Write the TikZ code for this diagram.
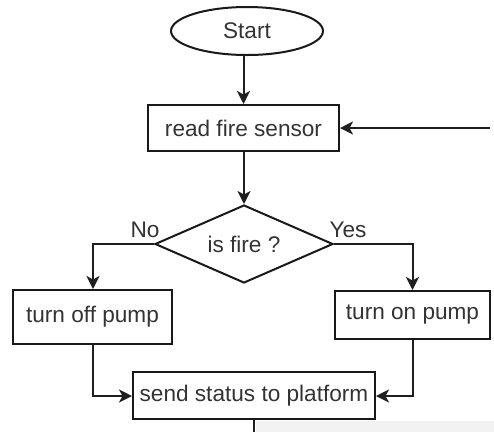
\documentclass[tikz,border=0pt]{standalone}
\usepackage{fontspec}
\setmainfont{Liberation Sans}
\usetikzlibrary{shapes.geometric,arrows.meta}
\begin{document}
\begin{tikzpicture}[x=1pt,y=-1pt,
  every node/.style={font=\fontsize{22.6}{26}\selectfont, text=black!80},
  boxstyle/.style={draw=black!90, line width=2pt, rectangle, inner sep=0pt},
  conn/.style={draw=black!88, line width=2pt},
  arr/.style={conn, -{Stealth[length=13pt,width=13pt,inset=3.5pt]}}
]
\useasboundingbox (0,0) rectangle (494,432);
\fill[black!5] (256,421) rectangle (494,432);

\node[ellipse, draw=black!90, line width=2pt, minimum width=152pt, minimum height=48pt, inner sep=0pt] (start) at (247,31) {Start};
\node[boxstyle, minimum width=191pt, minimum height=46pt] (read) at (243.5,128) {read fire sensor};
\node[diamond, draw=black!90, line width=2pt, minimum width=178pt, minimum height=78pt, inner sep=0pt, aspect=2.28] (dec) at (244,244) {};
\node at (244,244) {is fire ?};
\node[boxstyle, minimum width=159pt, minimum height=54pt] (off) at (92.5,317) {turn off pump};
\node[boxstyle, minimum width=155pt, minimum height=48pt] (on) at (412.5,315) {turn on pump};
\node[boxstyle, minimum width=242pt, minimum height=47pt] (send) at (254,395.5) {send status to platform};

\node (nolab) at (145,230) {No};
\node (yeslab) at (348,230) {Yes};

\coordinate (fb) at (490,128);
\coordinate (endb) at (254,432);

\draw[arr] (start.south -| read.north) ++(0,-1) -- (read.north);
\draw[arr] (fb) -- (read.east);
\draw[arr] (read.south -| dec.north) -- (dec.north);
\draw[arr] (dec.west) -| (off.north -| 93,0);
\draw[arr] (dec.east) -| (on.north);
\draw[arr] (off.south -| 93,0) |- (send.west |- 0,396);
\draw[arr] (on.south) |- (send.east |- 0,396);
\draw[conn] (send.south) -- (endb);
\end{tikzpicture}
\end{document}
